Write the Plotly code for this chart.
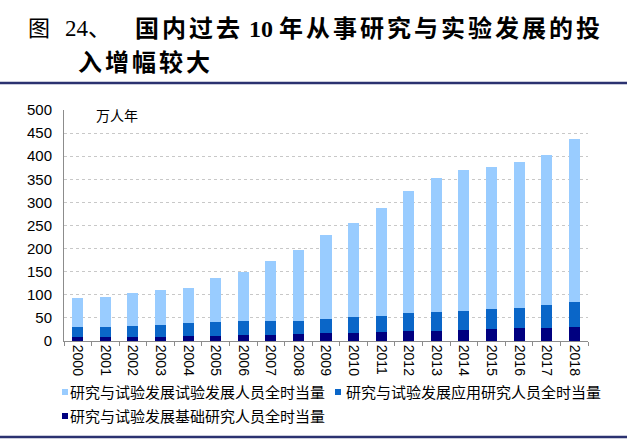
import plotly.graph_objects as go

years = ["2000", "2001", "2002", "2003", "2004", "2005", "2006", "2007", "2008", "2009",
         "2010", "2011", "2012", "2013", "2014", "2015", "2016", "2017", "2018"]
# 万人年
basic = [8.0, 7.9, 8.4, 9.0, 11.1, 11.5, 13.1, 13.8, 15.4, 16.5,
         17.4, 19.3, 21.2, 22.3, 23.5, 25.3, 27.5, 29.0, 30.5]
applied = [22.0, 22.6, 24.7, 26.0, 27.9, 29.7, 30.0, 28.6, 28.9, 31.5,
           33.6, 35.3, 38.4, 39.6, 40.7, 43.0, 43.9, 49.0, 53.9]
experimental = [62.3, 65.2, 70.4, 74.5, 76.3, 95.3, 107.1, 131.2, 152.2, 181.1,
                204.4, 233.7, 265.1, 291.4, 306.9, 307.6, 316.4, 325.4, 353.7]

names = ["研究与试验发展基础研究人员全时当量",
         "研究与试验发展应用研究人员全时当量",
         "研究与试验发展试验发展人员全时当量"]
colors = ["#000080", "#0a66c8", "#99ccff"]

W, H = 640, 441
L, R, T, B = 64, 52, 110, 100
pw = W - L - R
ph = H - T - B


def px(x):
    return (x - L) / pw


def py(y):
    return (H - B - y) / ph


sans = "Liberation Sans, Noto Sans CJK SC"
serif = "Liberation Serif, Noto Sans CJK SC"

fig = go.Figure()
for vals, name, col in zip([basic, applied, experimental], names, colors):
    fig.add_bar(x=years, y=vals, name=name, marker_color=col, marker_line_width=0)

fig.update_layout(
    width=W, height=H,
    margin=dict(l=L, r=R, t=T, b=B),
    barmode="stack", bargap=0.6,
    showlegend=False,
    plot_bgcolor="white", paper_bgcolor="white",
    font=dict(family=sans, color="#000000"),
)
fig.update_xaxes(
    type="category", showline=True, linecolor="#8c8c8c", linewidth=1,
    ticks="outside", tickson="boundaries", ticklen=4, tickcolor="#8c8c8c",
    tickangle=90, tickfont=dict(size=14), showgrid=False,
)
fig.update_yaxes(
    range=[0, 500], dtick=50, showgrid=True, gridcolor="#c8c8c8", griddash="dot",
    showline=True, linecolor="#8c8c8c", linewidth=1, zeroline=False,
    tickfont=dict(size=15), ticklabelstandoff=8,
)


def spaced(s):
    return f'<span style="letter-spacing:3px">{s}</span>'


title1 = "<b>" + spaced("国内过去") + " 10 " + spaced("年从事研究与实验发展的投") + "</b>"
title2 = "<b>" + spaced("入增幅较大") + "</b>"
ann = [
    dict(text="图", x=px(26), y=py(28), font=dict(family=serif, size=22)),
    dict(text="24、", x=px(63), y=py(28), font=dict(family=serif, size=23)),
    dict(text=title1, x=px(133), y=py(28), font=dict(family=serif, size=24)),
    dict(text=title2, x=px(76), y=py(63), font=dict(family=serif, size=24)),
    dict(text="万人年", x=px(94), y=py(116), font=dict(size=14)),
]
# legend: marker square (left, centre y) and text start
legend_pos = [(62, 416, 68), (335, 392, 344), (62, 392, 68)]
for name, col, (sx, sy, tx) in zip(names, colors, legend_pos):
    ann.append(dict(text=name, x=px(tx), y=py(sy), font=dict(size=15)))
    fig.add_shape(type="rect", xref="paper", yref="paper",
                  x0=px(sx), x1=px(sx + 6), y0=py(sy - 3), y1=py(sy + 3),
                  fillcolor=col, line_width=0)
for a in ann:
    fig.add_annotation(xref="paper", yref="paper", xanchor="left", yanchor="middle",
                       showarrow=False, **a)

for yy in (83, 437):
    fig.add_shape(type="line", xref="paper", yref="paper",
                  x0=px(0), x1=px(627), y0=py(yy), y1=py(yy),
                  line=dict(color="#2b3270", width=2.5))

fig.write_html("out.html", config={"displayModeBar": False},
               post_script="document.body.style.margin='0';")
